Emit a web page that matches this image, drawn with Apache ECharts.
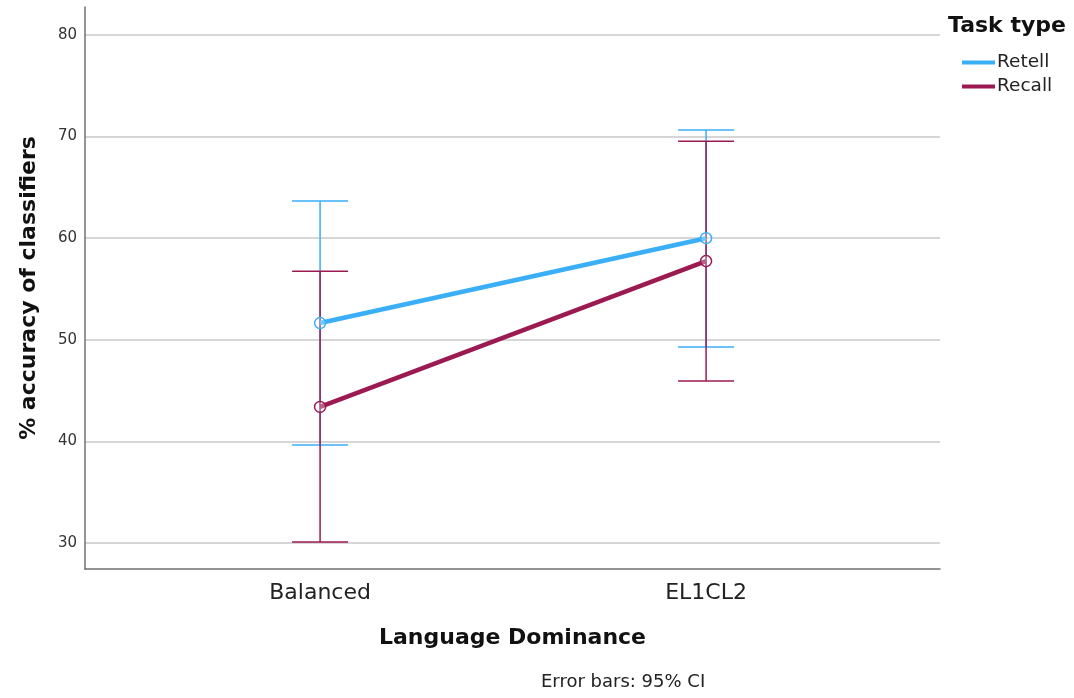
<!DOCTYPE html>
<html>
<head>
<meta charset="utf-8">
<script src="https://cdn.jsdelivr.net/npm/echarts@6/dist/echarts.min.js"></script>
<style>
html,body{margin:0;padding:0;background:#fff;}
#chart{width:1074px;height:698px;}
</style>
</head>
<body>
<div id="chart"></div>
<script>
// ---- data ----
var categories = ['Balanced', 'EL1CL2'];
var seriesNames = ['Retell', 'Recall'];
var retellMean = [51.65, 60.0];
var retellLow = [39.65, 49.3];
var retellHigh = [63.65, 70.65];
var recallMean = [43.4, 57.75];
var recallLow = [30.1, 45.95];
var recallHigh = [56.75, 69.55];
var yTicks = [30, 40, 50, 60, 70, 80];

var colors = ['#3aaef7', '#9c1a52'];
var font = '"DejaVu Sans", Verdana, sans-serif';

function pts(mean) { return mean.map(function (v, i) { return [i, v]; }); }
function errData(low, high) { return low.map(function (v, i) { return [i, v, high[i]]; }); }

function errRender(color) {
  return function (params, api) {
    var x = api.value(0);
    var lo = api.coord([x, api.value(1)]);
    var hi = api.coord([x, api.value(2)]);
    var half = 28;
    var style = { stroke: color, lineWidth: 1.5, fill: null };
    return {
      type: 'group',
      children: [
        { type: 'line', shape: { x1: lo[0], y1: lo[1], x2: hi[0], y2: hi[1] }, style: style },
        { type: 'line', shape: { x1: hi[0] - half, y1: hi[1], x2: hi[0] + half, y2: hi[1] }, style: style },
        { type: 'line', shape: { x1: lo[0] - half, y1: lo[1], x2: lo[0] + half, y2: lo[1] }, style: style }
      ]
    };
  };
}

var chart = echarts.init(document.getElementById('chart'), null, { renderer: 'canvas' });
chart.setOption({
  animation: false,
  backgroundColor: '#fff',
  grid: { left: 85, right: 134, top: 7, bottom: 129, containLabel: false },
  xAxis: {
    type: 'value',
    min: -0.609,
    max: 1.606,
    axisLine: { show: true, onZero: false, lineStyle: { color: '#707070', width: 1.5 } },
    axisTick: { show: false },
    splitLine: { show: false },
    axisLabel: {
      customValues: [0, 1],
      formatter: function (v) { return categories[Math.round(v)]; },
      fontSize: 22, color: '#222', fontFamily: font, margin: 13
    },
    name: 'Language Dominance',
    nameLocation: 'middle',
    nameGap: 58,
    nameTextStyle: { fontSize: 22, fontWeight: 'bold', color: '#111', fontFamily: font }
  },
  yAxis: {
    type: 'value',
    min: 27.45,
    max: 82.75,
    axisLine: { show: true, onZero: false, lineStyle: { color: '#707070', width: 1.5 } },
    axisTick: { show: false, customValues: yTicks },
    axisLabel: { customValues: yTicks, fontSize: 15, color: '#333', fontFamily: font, margin: 8 },
    splitLine: { show: true, lineStyle: { color: '#c8c8c8', width: 1.5 } },
    name: '% accuracy of classifiers',
    nameLocation: 'middle',
    nameGap: 45,
    nameTextStyle: { fontSize: 22, fontWeight: 'bold', color: '#111', fontFamily: font }
  },
  legend: {
    left: 957, top: 48, orient: 'vertical',
    itemWidth: 33, itemHeight: 4, itemGap: 5,
    icon: 'rect',
    data: [
      { name: seriesNames[0], itemStyle: { color: colors[0], borderWidth: 0 } },
      { name: seriesNames[1], itemStyle: { color: colors[1], borderWidth: 0 } }
    ],
    textStyle: { fontSize: 18.5, color: '#222', fontFamily: font, padding: [0, 0, 0, -3] }
  },
  graphic: [
    { type: 'text', left: 948, top: 15, style: { text: 'Task type', fontSize: 22, fontWeight: 'bold', fill: '#111', fontFamily: font } },
    { type: 'text', left: 541, top: 673, style: { text: 'Error bars: 95% CI', fontSize: 18, fill: '#222', fontFamily: font } }
  ],
  series: [
    { type: 'custom', name: 'RetellErr', data: errData(retellLow, retellHigh), renderItem: errRender(colors[0]), z: 2, silent: true },
    { type: 'custom', name: 'RecallErr', data: errData(recallLow, recallHigh), renderItem: errRender(colors[1]), z: 2, silent: true },
    {
      type: 'line', name: seriesNames[0], data: pts(retellMean),
      lineStyle: { color: colors[0], width: 4.5 }, itemStyle: { color: 'rgba(255,255,255,0.3)', borderColor: colors[0], borderWidth: 1.5 },
      symbol: 'circle', symbolSize: 11, z: 3
    },
    {
      type: 'line', name: seriesNames[1], data: pts(recallMean),
      lineStyle: { color: colors[1], width: 4.5 }, itemStyle: { color: 'rgba(255,255,255,0.3)', borderColor: colors[1], borderWidth: 1.5 },
      symbol: 'circle', symbolSize: 11, z: 3
    }
  ]
});
</script>
</body>
</html>
